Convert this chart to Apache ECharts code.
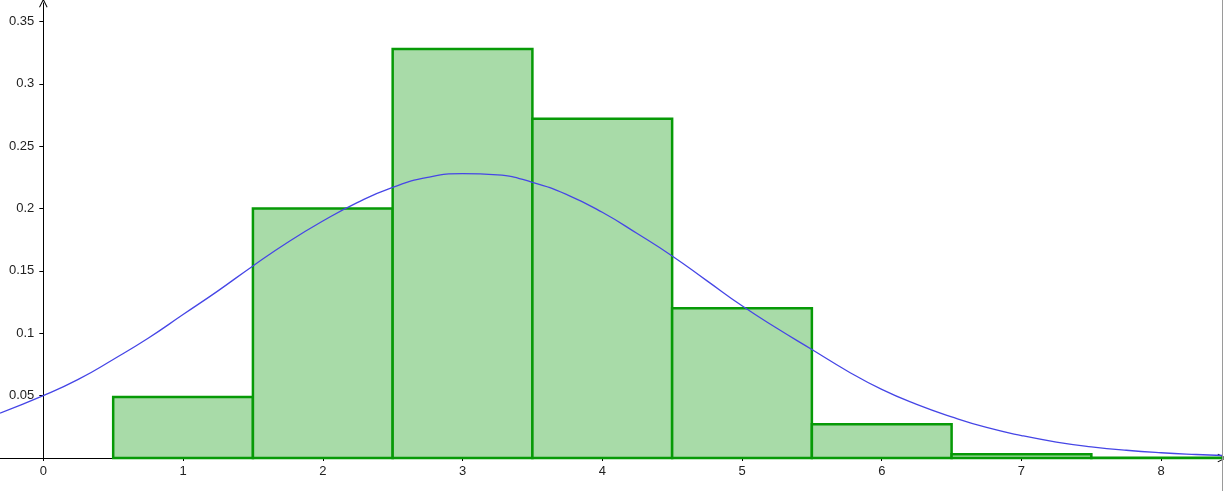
<!DOCTYPE html>
<html>
<head>
<meta charset="utf-8">
<script src="https://cdn.jsdelivr.net/npm/echarts@6/dist/echarts.min.js"></script>
<style>
  html, body { margin: 0; padding: 0; background: #fff; }
  #chart { width: 1224px; height: 491px; }
</style>
</head>
<body>
<div id="chart"></div>
<script>
// histogram bins (class edges) and relative frequencies
const binStart = [0.5, 1.5, 2.5, 3.5, 4.5, 5.5, 6.5, 7.5];
const binEnd   = [1.5, 2.5, 3.5, 4.5, 5.5, 6.5, 7.5, 8.5];
const binFreq  = [0.049, 0.2, 0.328, 0.272, 0.12, 0.027, 0.003, 0.0003];

// fitted curve, values
const curveX = [-0.31, 0, 0.25, 0.5, 0.75, 1, 1.25, 1.5, 1.75, 2, 2.25, 2.5, 2.75, 3, 3.25, 3.5, 3.75, 4,
                4.25, 4.5, 4.75, 5, 5.25, 5.5, 5.75, 6, 6.25, 6.5, 6.75, 7, 7.25, 7.5, 7.75, 8, 8.25, 8.44];
const curveY = [0.036, 0.05, 0.063, 0.079, 0.096, 0.115, 0.134, 0.154, 0.173, 0.19, 0.205, 0.217, 0.225, 0.228,
                0.227, 0.221, 0.211, 0.197, 0.18, 0.162, 0.142, 0.122, 0.104, 0.087, 0.07, 0.055, 0.043, 0.033,
                0.0245, 0.018, 0.0128, 0.009, 0.0062, 0.0042, 0.0028, 0.002];

// tick labels
const xTicks = [0, 1, 2, 3, 4, 5, 6, 7, 8];
const yTicks = [0.05, 0.1, 0.15, 0.2, 0.25, 0.3, 0.35];

const chart = echarts.init(document.getElementById('chart'));

const arrow = 'path://M0,10 L5,0 L10,10 L9,10.6 L5,2.6 L1,10.6 Z';
const font = { fontFamily: 'Liberation Sans, Arial, sans-serif', fontSize: 13, color: '#222' };

const xMin = -0.31, xMax = 8.435, plotW = 1222;

const option = {
  animation: false,
  backgroundColor: '#fff',
  grid: { left: 0, top: 3, width: plotW, bottom: 33, containLabel: false, outerBoundsMode: 'none' },
  xAxis: {
    type: 'value',
    min: xMin,
    max: xMax,
    splitLine: { show: false },
    axisLine: { onZero: true, lineStyle: { color: '#000', width: 1 }, symbol: ['none', arrow], symbolSize: [9, 9] },
    axisTick: { show: true, length: 3, customValues: xTicks, lineStyle: { color: '#000' } },
    axisLabel: Object.assign({ customValues: xTicks, margin: 7, formatter: v => String(v) }, font)
  },
  yAxis: {
    type: 'value',
    min: 0,
    max: 0.3648,
    // put the y axis on x = 0 of the x scale
    offset: -(0 - xMin) / (xMax - xMin) * plotW,
    splitLine: { show: false },
    axisLine: { onZero: false, lineStyle: { color: '#000', width: 1 }, symbol: ['none', arrow], symbolSize: [9, 9] },
    axisTick: { show: true, length: 4, customValues: yTicks, lineStyle: { color: '#000' } },
    axisLabel: Object.assign({ customValues: yTicks, margin: 9, formatter: v => String(+v.toFixed(2)) }, font)
  },
  series: [
    {
      type: 'custom',
      data: binFreq.map((h, i) => [binStart[i], binEnd[i], h]),
      encode: { x: [0, 1], y: 2 },
      renderItem: function (params, api) {
        const p0 = api.coord([api.value(0), api.value(2)]);
        const p1 = api.coord([api.value(1), 0]);
        const clip = params.coordSys;
        const x1 = Math.min(p1[0], clip.x + clip.width);
        return {
          type: 'rect',
          shape: { x: p0[0], y: p0[1], width: x1 - p0[0], height: p1[1] - p0[1] },
          style: { fill: '#a8dba8', stroke: '#079a07', lineWidth: 2.5 }
        };
      },
      z: 2
    },
    {
      type: 'line',
      data: curveX.map((x, i) => [x, curveY[i]]),
      smooth: 0.5,
      showSymbol: false,
      lineStyle: { color: '#4646e6', width: 1.3 },
      z: 3
    }
  ],
  graphic: [
    { type: 'rect', left: 1222, top: 0, shape: { width: 1, height: 491 }, style: { fill: '#9a9a9a' }, z: 10 }
  ]
};

chart.setOption(option);
</script>
</body>
</html>
